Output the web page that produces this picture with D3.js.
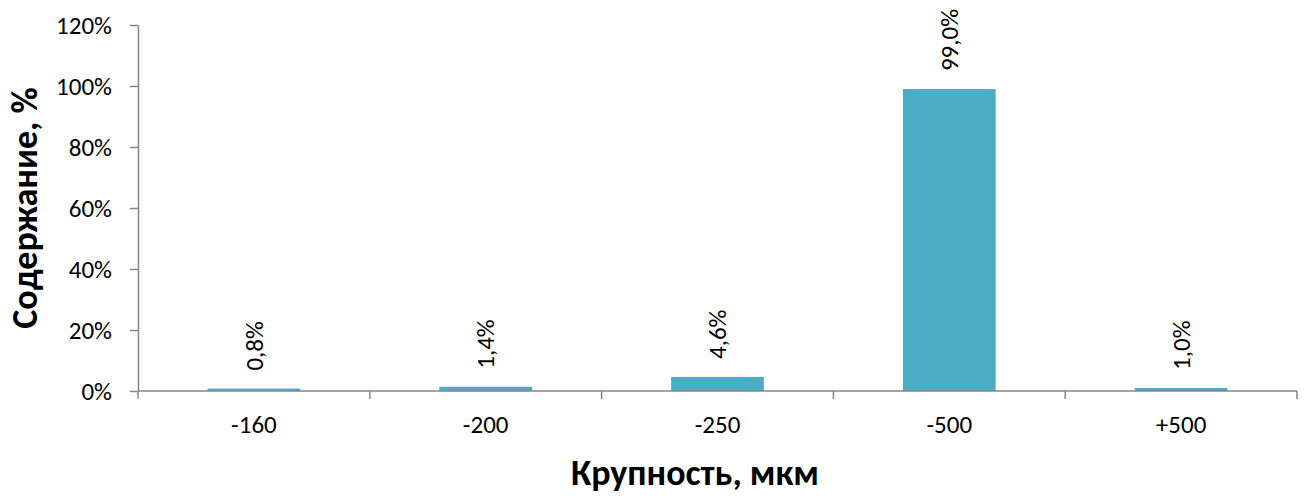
<!DOCTYPE html>
<html>
<head>
<meta charset="utf-8">
<script src="https://cdn.jsdelivr.net/npm/d3@7"></script>
<style>
  body { margin: 0; background: #fff; }
  svg text { font-family: Calibri, Carlito, Lato, sans-serif; fill: #000; }
</style>
</head>
<body>
<div id="chart"></div>
<script>
var width = 1308,
    height = 497;

// data
var categories = ["-160", "-200", "-250", "-500", "+500"];
var values = [0.008, 0.014, 0.046, 0.990, 0.010];
var yTicks = [0, 0.2, 0.4, 0.6, 0.8, 1.0, 1.2];

var xTitle = "Крупность, мкм",
    yTitle = "Содержание, %";

var plot = { left: 138, right: 1297, top: 25, bottom: 391 };

var ru = d3.formatLocale({ decimal: ",", thousands: " ", grouping: [3], currency: ["", ""] });
var fmtTick = ru.format(".0%"),
    fmtLabel = ru.format(".1%");

var svg = d3.select("#chart").append("svg")
    .attr("width", width)
    .attr("height", height);

var x = d3.scaleBand()
    .domain(categories)
    .range([plot.left, plot.right])
    .padding(0);

var y = d3.scaleLinear()
    .domain([0, 1.2])
    .range([plot.bottom, plot.top]);

var barWidth = x.bandwidth() * 0.4;

// bars
svg.selectAll(".bar")
    .data(values)
    .enter()
    .append("rect")
    .attr("class", "bar")
    .attr("x", function(d, i) { return x(categories[i]) + (x.bandwidth() - barWidth) / 2; })
    .attr("y", function(d) { return y(d); })
    .attr("width", barWidth)
    .attr("height", function(d) { return y(0) - y(d); })
    .style("fill", "#4bacc6");

// y axis
var yAxis = svg.append("g")
    .attr("transform", "translate(" + plot.left + ",0)")
    .call(d3.axisLeft(y).tickValues(yTicks).tickFormat(fmtTick).tickSize(8).tickSizeOuter(0).tickPadding(18));

// x axis: ticks on band boundaries
var xAxis = svg.append("g")
    .attr("transform", "translate(0," + plot.bottom + ")");

xAxis.append("line")
    .attr("x1", plot.left).attr("x2", plot.right)
    .attr("y1", 0).attr("y2", 0);

var bounds = categories.map(function(c) { return x(c); }).concat([plot.right]);
xAxis.selectAll(".xtick")
    .data(bounds)
    .enter()
    .append("line")
    .attr("class", "xtick")
    .attr("x1", function(d) { return d; }).attr("x2", function(d) { return d; })
    .attr("y1", 0).attr("y2", 8);

xAxis.selectAll(".xlabel")
    .data(categories)
    .enter()
    .append("text")
    .attr("class", "xlabel")
    .attr("x", function(d) { return x(d) + x.bandwidth() / 2; })
    .attr("y", 42)
    .style("text-anchor", "middle")
    .style("font-size", "25px")
    .text(function(d) { return d; });

svg.selectAll("line").style("stroke", "#868686").style("stroke-width", 1.5);
yAxis.select(".domain").style("stroke", "#868686").style("stroke-width", 1.5);
yAxis.selectAll("text").style("font-size", "25px");

// data labels, rotated
svg.selectAll(".dlabel")
    .data(values)
    .enter()
    .append("text")
    .attr("class", "dlabel")
    .attr("transform", function(d, i) {
        return "translate(" + (x(categories[i]) + x.bandwidth() / 2) + "," + (y(d) - 18) + ") rotate(-90)";
    })
    .attr("dy", "0.35em")
    .style("text-anchor", "start")
    .style("font-size", "25px")
    .text(function(d) { return fmtLabel(d); });

// axis titles
svg.append("text")
    .attr("x", 695)
    .attr("y", 485)
    .style("text-anchor", "middle")
    .style("font-size", "36px")
    .style("font-weight", "bold")
    .text(xTitle);

svg.append("text")
    .attr("transform", "translate(37," + (plot.top + plot.bottom) / 2 + ") rotate(-90)")
    .style("text-anchor", "middle")
    .style("font-size", "36px")
    .style("font-weight", "bold")
    .text(yTitle);
</script>
</body>
</html>
